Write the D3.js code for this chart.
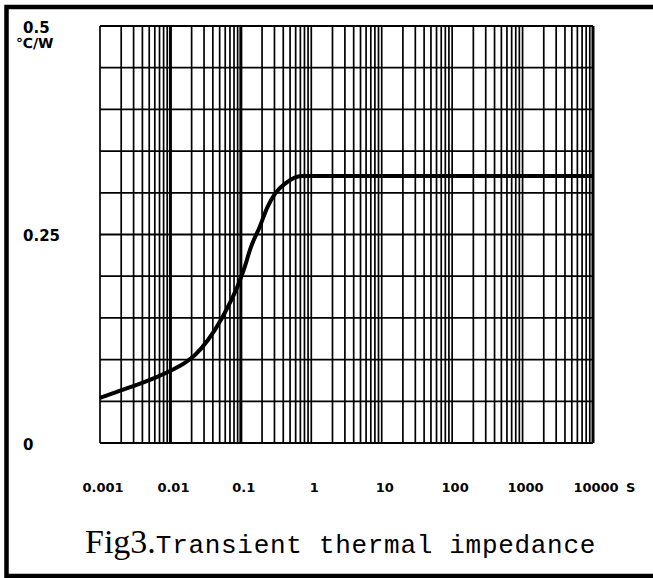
<!DOCTYPE html>
<html>
<head>
<meta charset="utf-8">
<script src="https://cdn.jsdelivr.net/npm/d3@7"></script>
<style>
  body { margin: 0; background: #fff; }
  svg { display: block; }
  .lbl { font-family: "DejaVu Sans", sans-serif; font-weight: bold; fill: #000; }
</style>
</head>
<body>
<svg id="chart" width="653" height="578"></svg>
<script>
// curve (time in s, Zth in degC/W)
const times = [0.001, 0.0025, 0.006, 0.0105, 0.016, 0.0223, 0.0341, 0.054, 0.0748, 0.091, 0.1145, 0.135, 0.187, 0.236, 0.306, 0.425, 0.74, 10000];
const zth = [0.054, 0.066, 0.078, 0.0875, 0.096, 0.1055, 0.1235, 0.150, 0.173, 0.189, 0.212, 0.232, 0.260, 0.282, 0.299, 0.311, 0.320, 0.320];

const xTicks = [0.001, 0.01, 0.1, 1, 10, 100, 1000, 10000];
const xTickLabels = ["0.001", "0.01", "0.1", "1", "10", "100", "1000", "10000"];
const yTicks = [0, 0.25, 0.5];
const yTickLabels = ["0", "0.25", "0.5"];
const yGrid = d3.range(0, 0.5001, 0.05);
const thickDecades = [0.01, 0.1];

const svg = d3.select("#chart");

// outer frame (right side runs off the picture)
svg.append("rect")
  .attr("x", 6.5).attr("y", 7).attr("width", 660).attr("height", 569)
  .attr("fill", "none").attr("stroke", "#000").attr("stroke-width", 4.5);

const x = d3.scaleLog().domain([0.001, 10000]).range([100, 593]);
const y = d3.scaleLinear().domain([0, 0.5]).range([443, 26]);

// vertical grid lines: 1..9 in every decade
const vGrid = [];
for (let e = -3; e < 4; e++) {
  for (let m = 1; m < 10; m++) vGrid.push(m * Math.pow(10, e));
}
vGrid.push(10000);

const grid = svg.append("g");
grid.selectAll("line.v")
  .data(vGrid)
  .join("line")
  .attr("class", "v")
  .attr("x1", d => x(d)).attr("x2", d => x(d))
  .attr("y1", y(0.5)).attr("y2", y(0))
  .attr("stroke", "#000")
  .attr("stroke-width", d => thickDecades.some(t => Math.abs(t - d) < 1e-9) || d === 10000 ? 3 : 1.7);

grid.selectAll("line.h")
  .data(yGrid)
  .join("line")
  .attr("class", "h")
  .attr("x1", x(0.001)).attr("x2", x(10000))
  .attr("y1", d => y(d)).attr("y2", d => y(d))
  .attr("stroke", "#000")
  .attr("stroke-width", 1.8);

// curve
const line = d3.line()
  .x((d, i) => x(times[i]))
  .y(d => y(d))
  .curve(d3.curveMonotoneX);

svg.append("path")
  .datum(zth)
  .attr("d", line)
  .attr("fill", "none")
  .attr("stroke", "#000")
  .attr("stroke-width", 4)
  .attr("stroke-linejoin", "round");

// y labels
svg.selectAll("text.ylab")
  .data(yTicks)
  .join("text")
  .attr("class", "lbl ylab")
  .attr("x", 23)
  .attr("y", d => y(d) + 1.5)
  .attr("dominant-baseline", "central")
  .attr("font-size", 15)
  .text((d, i) => yTickLabels[i]);

svg.append("text")
  .attr("class", "lbl")
  .attr("x", 16).attr("y", 43)
  .attr("dominant-baseline", "central")
  .attr("font-size", 14)
  .text("℃/W");

// x labels
svg.selectAll("text.xlab")
  .data(xTicks)
  .join("text")
  .attr("class", "lbl xlab")
  .attr("x", d => x(d) + 3)
  .attr("y", 487)
  .attr("dominant-baseline", "central")
  .attr("text-anchor", "middle")
  .attr("font-size", 13)
  .text((d, i) => xTickLabels[i]);

svg.append("text")
  .attr("class", "lbl")
  .attr("x", 626).attr("y", 487)
  .attr("dominant-baseline", "central")
  .attr("font-size", 13)
  .text("S");

// caption
const cap = svg.append("text")
  .attr("x", 85).attr("y", 553)
  .attr("fill", "#000");
cap.append("tspan")
  .attr("font-family", "Liberation Serif, serif")
  .attr("font-size", 34)
  .text("Fig3.");
cap.append("tspan")
  .attr("font-family", "Liberation Mono, monospace")
  .attr("font-size", 26)
  .attr("letter-spacing", 0.7)
  .text("Transient thermal impedance");
</script>
</body>
</html>
